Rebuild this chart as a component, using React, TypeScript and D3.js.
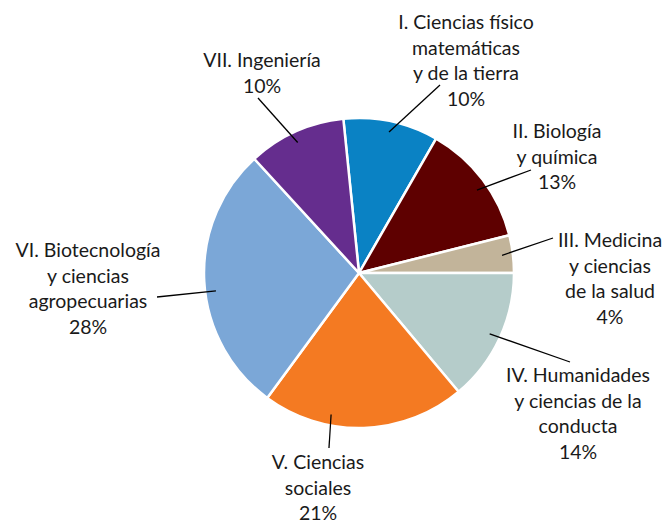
import * as d3 from "d3";

const categories = [
  "I. Ciencias físico matemáticas y de la tierra",
  "II. Biología y química",
  "III. Medicina y ciencias de la salud",
  "IV. Humanidades y ciencias de la conducta",
  "V. Ciencias sociales",
  "VI. Biotecnología y ciencias agropecuarias",
  "VII. Ingeniería",
];
const values = [9.9, 12.8, 3.9, 13.9, 21.2, 28.1, 10.2];
const pctLabels = ["10%", "13%", "4%", "14%", "21%", "28%", "10%"];
const labelLines = [
  ["I. Ciencias físico", "matemáticas", "y de la tierra"],
  ["II. Biología", "y química"],
  ["III. Medicina", "y ciencias", "de la salud"],
  ["IV. Humanidades", "y ciencias de la", "conducta"],
  ["V. Ciencias", "sociales"],
  ["VI. Biotecnología", "y ciencias", "agropecuarias"],
  ["VII. Ingeniería"],
];
const colors = ["#0a82c4", "#5e0000", "#c2b49a", "#b5ccca", "#f47a22", "#7ba7d7", "#652d8e"];

// label layout: text center, first baseline, leader end, angle nudge (deg) for inner end
const layout = [
  { x: 466, y: 29, lx: 440, ly: 85, nudge: 0 },
  { x: 557, y: 138, lx: 531, ly: 170, nudge: 2 },
  { x: 610, y: 247, lx: 553, ly: 238, nudge: 0 },
  { x: 578, y: 382, lx: 570, ly: 362, nudge: 0 },
  { x: 318, y: 469, lx: 329, ly: 448, nudge: 13 },
  { x: 88, y: 257, lx: 157, ly: 297, nudge: -4 },
  { x: 262, y: 67, lx: 258, ly: 98, nudge: -1 },
];

const W = 670;
const H = 525;
const cx = 359;
const cy = 273;
const R = 155;
const LH = 25.7;

export default function App() {
  const start = (-5.8 * Math.PI) / 180;
  const pie = d3
    .pie<number>()
    .sort(null)
    .startAngle(start)
    .endAngle(start + 2 * Math.PI);
  const arcs = pie(values);
  const arc = d3.arc<d3.PieArcDatum<number>>().innerRadius(0).outerRadius(R);

  return (
    <svg
      width={W}
      height={H}
      style={{ position: "absolute", left: 0, top: 0, background: "#fff" }}
      fontFamily="Lato, 'Open Sans', sans-serif"
      fontSize={19.5}
    >
      <g transform={`translate(${cx},${cy})`}>
        {arcs.map((a, i) => (
          <path key={categories[i]} d={arc(a) || ""} fill={colors[i]} stroke="#fff" strokeWidth={2.5} strokeLinejoin="round" />
        ))}
      </g>
      {arcs.map((a, i) => {
        const L = layout[i];
        const mid = (a.startAngle + a.endAngle) / 2 + (L.nudge * Math.PI) / 180;
        const r = R * 0.93;
        const ix = cx + r * Math.sin(mid);
        const iy = cy - r * Math.cos(mid);
        const lines = [...labelLines[i], pctLabels[i]];
        return (
          <g key={"l" + i}>
            <line x1={ix} y1={iy} x2={L.lx} y2={L.ly} stroke="#000" strokeWidth={1.3} />
            <text textAnchor="middle" fill="#1a1a1a">
              {lines.map((t, j) => (
                <tspan key={j} x={L.x} y={L.y + j * LH}>
                  {t}
                </tspan>
              ))}
            </text>
          </g>
        );
      })}
    </svg>
  );
}
